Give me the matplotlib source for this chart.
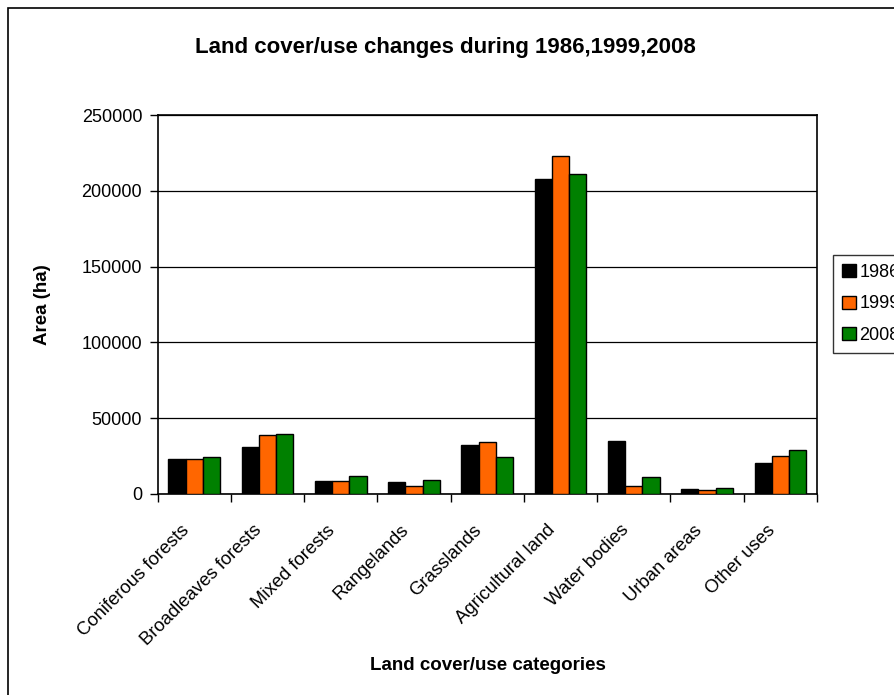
import numpy as np
import matplotlib
matplotlib.use('Agg')
import matplotlib.pyplot as plt
from matplotlib.patches import Rectangle
from matplotlib.transforms import ScaledTranslation

plt.rcParams['font.family'] = ['Liberation Sans', 'DejaVu Sans']

categories = ['Coniferous forests', 'Broadleaves forests', 'Mixed forests', 'Rangelands',
              'Grasslands', 'Agricultural land', 'Water bodies', 'Urban areas', 'Other uses']
years = ['1986', '1999', '2008']
area_1986 = [23200, 31100, 8700, 7600, 32000, 207500, 35100, 3000, 20400]
area_1999 = [22800, 38600, 8300, 5300, 34600, 223000, 5400, 2400, 25000]
area_2008 = [24700, 39700, 12200, 9400, 24700, 211200, 11400, 3900, 29000]
colors = ['#000000', '#FF6600', '#008000']

fig = plt.figure(figsize=(8.95, 6.95), dpi=100)
ax = fig.add_axes([157.5 / 895, 1 - 494 / 695, (817 - 157.5) / 895, (494 - 115) / 695])

x = np.arange(len(categories))
w = 0.235
for i, (vals, c, lab) in enumerate(zip([area_1986, area_1999, area_2008], colors, years)):
    ax.bar(x + (i - 1) * w, vals, w, color=c, edgecolor='black', linewidth=1, label=lab, zorder=3)

ax.set_xlim(-0.5, len(categories) - 0.5)
ax.set_ylim(0, 250000)
ax.set_yticks(range(0, 250001, 50000))
ax.yaxis.grid(True, color='black', linewidth=0.9, zorder=0)
ax.tick_params(axis='y', labelsize=13, direction='out', length=6, width=1, pad=5)

# category ticks at boundaries, labels centred
ax.set_xticks(np.arange(-0.5, len(categories), 1))
ax.set_xticklabels([])
ax.set_xticks(x, minor=True)
ax.set_xticklabels(categories, minor=True, rotation=45, ha='right', rotation_mode='anchor', fontsize=13.3)
ax.tick_params(axis='x', which='major', direction='out', length=6, width=1)
ax.tick_params(axis='x', which='minor', length=0, pad=8)
shift = ScaledTranslation(-10 / 72, -12 / 72, fig.dpi_scale_trans)
for t in ax.get_xticklabels(minor=True):
    t.set_transform(t.get_transform() + shift)

for s in ax.spines.values():
    s.set_linewidth(1.2)
    s.set_color('black')

fig.text(445 / 895, 1 - 47 / 695, 'Land cover/use changes during 1986,1999,2008',
         ha='center', va='center', fontsize=16, fontweight='bold')
fig.text(488 / 895, 1 - 665 / 695, 'Land cover/use categories',
         ha='center', va='center', fontsize=13.5, fontweight='bold')
fig.text(43 / 895, 1 - 305 / 695, 'Area (ha)', rotation=90,
         ha='center', va='center', fontsize=13.5, fontweight='bold')

leg = fig.legend(loc='upper left', bbox_to_anchor=(833 / 895, 1 - 255 / 695), fontsize=13,
                 frameon=True, fancybox=False, edgecolor='black', handlelength=0.75,
                 handleheight=0.75, handletextpad=0.2, labelspacing=0.8, borderpad=0.5,
                 borderaxespad=0)
leg.get_frame().set_linewidth(1)

fig.add_artist(Rectangle((8 / 895, -0.05), 1.1, 1 - 8 / 695 + 0.05, transform=fig.transFigure,
                         fill=False, edgecolor='black', linewidth=1.2))

plt.savefig('out.png', dpi=100)
